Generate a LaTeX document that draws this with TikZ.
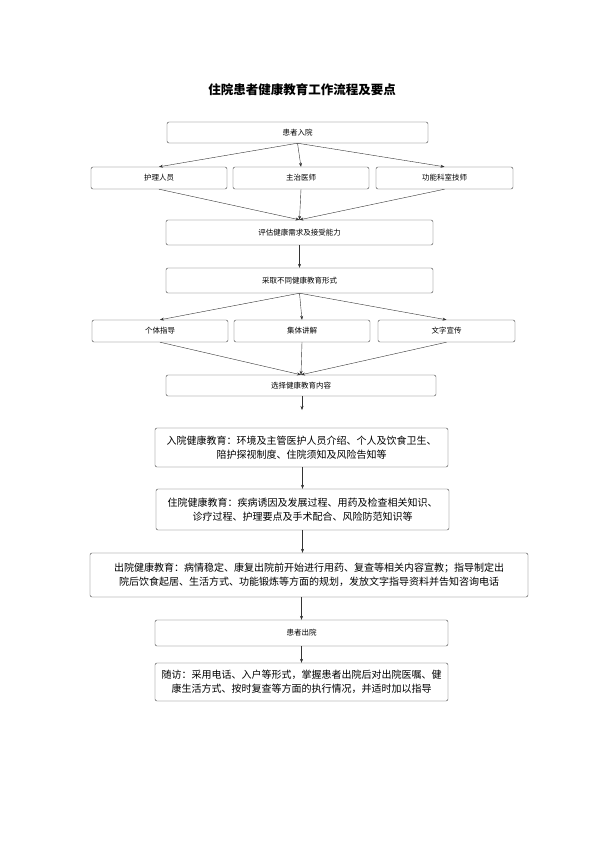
\documentclass[tikz,border=0pt]{standalone}
\usepackage{fontspec}
\setmainfont{Noto Sans CJK SC}
\usetikzlibrary{arrows.meta}
\begin{document}
\begin{tikzpicture}[x=1pt,y=-1pt,
  every node/.style={font=\fontsize{7.5}{9}\selectfont},
  box/.style={draw=black!75,rounded corners=2pt,inner sep=0pt,align=center},
  big/.style={box,font=\fontsize{10}{14}\selectfont},
  arr/.style={-{Stealth[length=4pt,width=3pt]},draw=black!80}]
    \useasboundingbox (0,0) rectangle (604,856);
    \node[font=\bfseries\fontsize{12.5}{14}\selectfont] (title) at (302,90) {住院患者健康教育工作流程及要点};
    %top
    \node[box,minimum width=261,minimum height=21] (in) at (297.5,132.5) {患者入院};
    \node[box,minimum width=136,minimum height=22] (nurse) at (159,178) {护理人员};
    \node[box,minimum width=136,minimum height=22] (doc) at (301,178) {主治医师};
    \node[box,minimum width=137,minimum height=22] (tech) at (444.5,178) {功能科室技师};
    \node[box,minimum width=267,minimum height=25] (eval) at (299.5,232.5) {评估健康需求及接受能力};
    \node[box,minimum width=267,minimum height=25] (form) at (299.5,280.5) {采取不同健康教育形式};
    \node[box,minimum width=136,minimum height=22] (ind) at (160,331) {个体指导};
    \node[box,minimum width=136,minimum height=22] (grp) at (302,331) {集体讲解};
    \node[box,minimum width=137,minimum height=22] (txt) at (446.5,331) {文字宣传};
    \node[box,minimum width=270,minimum height=21] (sel) at (301,385.5) {选择健康教育内容};
    \coordinate (gap) at (302,410);
    %content
    \node[big,minimum width=293,minimum height=39] (adm) at (301.5,447.5) {入院健康教育：环境及主管医护人员介绍、个人及饮食卫生、\\陪护探视制度、住院须知及风险告知等};
    \node[big,minimum width=293,minimum height=41] (stay) at (302.5,509.5) {住院健康教育：疾病诱因及发展过程、用药及检查相关知识、\\诊疗过程、护理要点及手术配合、风险防范知识等};
    \node[big,minimum width=438,minimum height=44] (dis) at (309,575) {出院健康教育：病情稳定、康复出院前开始进行用药、复查等相关内容宣教；指导制定出\\院后饮食起居、生活方式、功能锻炼等方面的规划，发放文字指导资料并告知咨询电话};
    \node[box,minimum width=293,minimum height=26] (out) at (301.5,633) {患者出院};
    \node[big,minimum width=293,minimum height=38] (fol) at (301.5,682) {随访：采用电话、入户等形式，掌握患者出院后对出院医嘱、健\\康生活方式、按时复查等方面的执行情况，并适时加以指导};
    %arrows
    \draw[arr] (in.south) -- (nurse.north);
    \draw[arr] (in.south) -- (doc.north);
    \draw[arr] (in.south) -- (tech.north);
    \draw[arr] (nurse.south) -- (eval.north);
    \draw[arr] (doc.south) -- (eval.north);
    \draw[arr] (tech.south) -- (eval.north);
    \draw[arr] (eval) -- (form);
    \draw[arr] (form.south) -- (ind.north);
    \draw[arr] (form.south) -- (grp.north);
    \draw[arr] (form.south) -- (txt.north);
    \draw[arr] (ind.south) -- (sel.north);
    \draw[arr] (grp.south) -- (sel.north);
    \draw[arr] (txt.south) -- (sel.north);
    \draw[arr] (sel.south -| gap) -- (gap);
    \draw[arr] (adm.south -| stay.north) -- (stay.north);
    \draw[arr] (stay.south) -- (stay.south |- dis.north);
    \draw[arr] (out.north |- dis.south) -- (out.north);
    \draw[arr] (out) -- (fol);
\end{tikzpicture}
\end{document}
